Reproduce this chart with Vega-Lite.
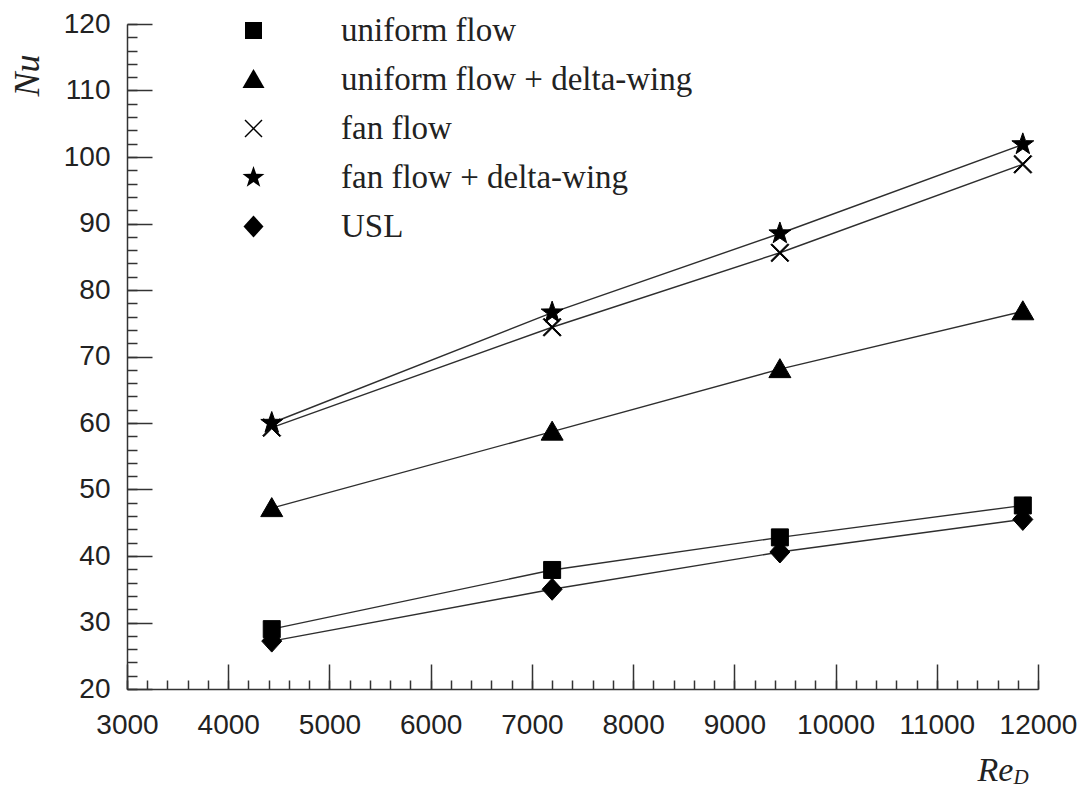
{
  "$schema": "https://vega.github.io/schema/vega-lite/v6.json",
  "width": 911,
  "height": 665,
  "autosize": {"type": "none"},
  "padding": {"left": 127, "top": 24, "right": 50, "bottom": 98},
  "background": "white",
  "data": {
    "values": [
      {"series": "uniform flow", "Re": 4430, "Nu": 29.0},
      {"series": "uniform flow", "Re": 7200, "Nu": 37.9},
      {"series": "uniform flow", "Re": 9450, "Nu": 42.8},
      {"series": "uniform flow", "Re": 11850, "Nu": 47.6},
      {"series": "uniform flow + delta-wing", "Re": 4430, "Nu": 47.2},
      {"series": "uniform flow + delta-wing", "Re": 7200, "Nu": 58.7},
      {"series": "uniform flow + delta-wing", "Re": 9450, "Nu": 68.1},
      {"series": "uniform flow + delta-wing", "Re": 11850, "Nu": 76.8},
      {"series": "fan flow", "Re": 4430, "Nu": 59.3},
      {"series": "fan flow", "Re": 7200, "Nu": 74.4},
      {"series": "fan flow", "Re": 9450, "Nu": 85.6},
      {"series": "fan flow", "Re": 11850, "Nu": 98.9},
      {"series": "fan flow + delta-wing", "Re": 4430, "Nu": 60.0},
      {"series": "fan flow + delta-wing", "Re": 7200, "Nu": 76.6},
      {"series": "fan flow + delta-wing", "Re": 9450, "Nu": 88.5},
      {"series": "fan flow + delta-wing", "Re": 11850, "Nu": 101.9},
      {"series": "USL", "Re": 4430, "Nu": 27.2},
      {"series": "USL", "Re": 7200, "Nu": 35.0},
      {"series": "USL", "Re": 9450, "Nu": 40.6},
      {"series": "USL", "Re": 11850, "Nu": 45.5}
    ]
  },
  "layer": [
    {
      "mark": {"type": "line", "color": "#2e2e2e", "strokeWidth": 1.4},
      "encoding": {
        "detail": {"field": "series", "type": "nominal"},
        "x": {
          "field": "Re", "type": "quantitative",
          "scale": {"domain": [3000, 12000], "nice": false, "zero": false},
          "axis": {
            "orient": "bottom",
            "values": [3000, 4000, 5000, 6000, 7000, 8000, 9000, 10000, 11000, 12000],
            "format": "d",
            "grid": false,
            "tickSize": -25,
            "tickWidth": 1.5,
            "tickColor": "#333333",
            "domainColor": "#333333",
            "domainWidth": 1.5,
            "labelPadding": 47,
            "labelFont": "Liberation Sans",
            "labelFontSize": 28,
            "labelColor": "#222222",
            "labelFlush": false,
            "labelOverlap": false,
            "title": "Re",
            "titleFont": "Liberation Serif",
            "titleFontStyle": "italic",
            "titleFontWeight": "normal",
            "titleFontSize": 34,
            "titleColor": "#222222",
            "titleX": 868,
            "titleY": 91,
            "titleAlign": "center",
            "titleBaseline": "alphabetic"
          }
        },
        "y": {
          "field": "Nu", "type": "quantitative",
          "scale": {"domain": [20, 120], "nice": false, "zero": false},
          "axis": {
            "orient": "left",
            "values": [20, 30, 40, 50, 60, 70, 80, 90, 100, 110, 120],
            "grid": false,
            "tickSize": -25,
            "tickWidth": 1.5,
            "tickColor": "#333333",
            "domainColor": "#333333",
            "domainWidth": 1.5,
            "labelPadding": 42,
            "labelFont": "Liberation Sans",
            "labelFontSize": 28,
            "labelColor": "#222222",
            "labelOverlap": false,
            "title": "Nu",
            "titleFont": "Liberation Serif",
            "titleFontStyle": "italic",
            "titleFontWeight": "normal",
            "titleFontSize": 36,
            "titleColor": "#222222",
            "titleX": -100,
            "titleY": 51,
            "titleAngle": -90,
            "titleAlign": "center",
            "titleBaseline": "middle"
          }
        }
      }
    },
    {
      "mark": {"type": "point", "filled": true, "color": "#000000", "stroke": "#000000", "strokeWidth": 1, "opacity": 1, "size": 400},
      "encoding": {
        "x": {
          "field": "Re", "type": "quantitative",
          "scale": {"domain": [3000, 12000], "nice": false, "zero": false},
          "axis": {
            "orient": "bottom",
            "values": [3000, 3200, 3400, 3600, 3800, 4000, 4200, 4400, 4600, 4800, 5000, 5200, 5400, 5600, 5800, 6000, 6200, 6400, 6600, 6800, 7000, 7200, 7400, 7600, 7800, 8000, 8200, 8400, 8600, 8800, 9000, 9200, 9400, 9600, 9800, 10000, 10200, 10400, 10600, 10800, 11000, 11200, 11400, 11600, 11800, 12000],
            "grid": false,
            "domain": false,
            "labels": false,
            "tickSize": -9,
            "tickWidth": 1.5,
            "tickColor": "#333333",
            "title": "D",
            "titleFont": "Liberation Serif",
            "titleFontStyle": "italic",
            "titleFontWeight": "normal",
            "titleFontSize": 21,
            "titleColor": "#222222",
            "titleX": 886,
            "titleY": 94,
            "titleAlign": "left",
            "titleBaseline": "alphabetic"
          }
        },
        "y": {
          "field": "Nu", "type": "quantitative",
          "scale": {"domain": [20, 120], "nice": false, "zero": false},
          "axis": {
            "orient": "left",
            "values": [20, 22, 24, 26, 28, 30, 32, 34, 36, 38, 40, 42, 44, 46, 48, 50, 52, 54, 56, 58, 60, 62, 64, 66, 68, 70, 72, 74, 76, 78, 80, 82, 84, 86, 88, 90, 92, 94, 96, 98, 100, 102, 104, 106, 108, 110, 112, 114, 116, 118, 120],
            "grid": false,
            "domain": false,
            "labels": false,
            "tickSize": -10,
            "tickWidth": 1.5,
            "tickColor": "#333333",
            "title": null
          }
        },
        "shape": {
          "field": "series", "type": "nominal",
          "scale": {
            "domain": ["uniform flow", "uniform flow + delta-wing", "fan flow", "fan flow + delta-wing", "USL"],
            "range": [
              "M-0.85,-0.85H0.85V0.85H-0.85Z",
              "M0,-1.05L1.1,0.85L-1.1,0.85Z",
              "M-0.9,-0.8L-0.8,-0.9L0,-0.1L0.8,-0.9L0.9,-0.8L0.1,0L0.9,0.8L0.8,0.9L0,0.1L-0.8,0.9L-0.9,0.8L-0.1,0Z",
              "M0,-1.15L0.27,-0.372L1.094,-0.355L0.437,0.142L0.676,0.93L0,0.46L-0.676,0.93L-0.437,0.142L-1.094,-0.355L-0.27,-0.372Z",
              "M0,-1.1L1,0L0,1.1L-1,0Z"
            ]
          },
          "legend": {
            "orient": "none",
            "legendX": 110,
            "legendY": -10,
            "title": null,
            "padding": 0,
            "labelFont": "Liberation Serif",
            "labelFontSize": 33,
            "labelColor": "#222222",
            "labelOffset": 71,
            "labelLimit": 600,
            "rowPadding": 15,
            "symbolSize": 400,
            "symbolFillColor": "#000000",
            "symbolStrokeColor": "#000000",
            "symbolStrokeWidth": 1,
            "symbolOpacity": 1
          }
        }
      }
    }
  ],
  "resolve": {"axis": {"x": "independent", "y": "independent"}},
  "config": {"view": {"stroke": null}}
}
